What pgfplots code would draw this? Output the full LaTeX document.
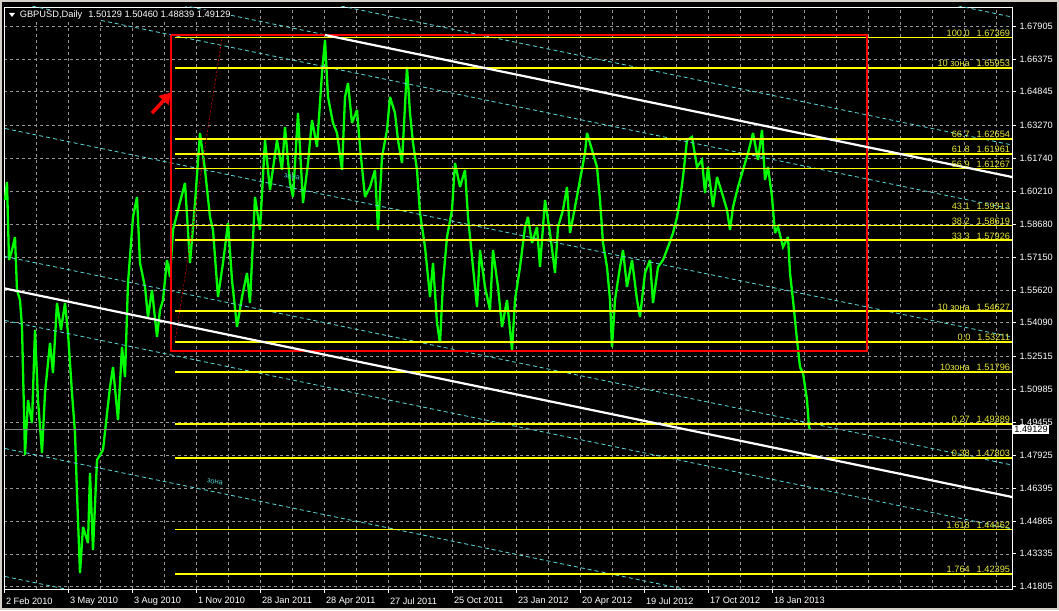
\documentclass[border=0pt]{standalone}
\usepackage{fontspec}
\setmainfont{Liberation Sans}
\usepackage{pgfplots}
\pgfplotsset{compat=1.18}
\usetikzlibrary{arrows.meta}
\definecolor{fibyel}{RGB}{255,255,0}
\definecolor{fibtxt}{RGB}{232,232,60}
\definecolor{chcyan}{RGB}{88,208,208}
\definecolor{gridgray}{RGB}{150,150,150}
\definecolor{pricegreen}{RGB}{0,255,0}
\definecolor{winframe}{RGB}{212,208,200}
\definecolor{fibred}{RGB}{190,0,0}

\pgfplotstableread{
x y
5 1.59804
7 1.60642
9 1.57011
12 1.57477
15 1.58082
17 1.55614
20 1.55149
22 1.53892
25 1.47933
28 1.50493
32 1.49423
35 1.53752
38 1.50493
42 1.48026
45 1.50819
50 1.53147
53 1.51750
57 1.55009
61 1.53752
65 1.55009
68 1.53613
72 1.50819
75 1.48957
77 1.46164
80 1.42439
83 1.44581
88 1.43836
90 1.47095
93 1.43510
97 1.47700
103 1.48166
110 1.51099
113 1.52030
118 1.49562
122 1.52961
125 1.51564
128 1.55940
133 1.59013
137 1.59944
140 1.56871
145 1.55754
148 1.54357
152 1.55614
157 1.53426
160 1.54683
163 1.55149
167 1.57011
170 1.56220
173 1.58408
178 1.59339
185 1.60596
190 1.56871
195 1.59665
200 1.62924
205 1.61201
210 1.59013
213 1.58408
218 1.55289
223 1.56871
228 1.58734
232 1.56080
237 1.53892
242 1.55289
247 1.56406
250 1.55009
255 1.59944
260 1.58408
265 1.62598
270 1.60270
277 1.62598
282 1.61201
285 1.63203
290 1.60596
293 1.59944
298 1.63855
303 1.59665
308 1.61527
312 1.63529
317 1.62272
322 1.65717
325 1.67253
328 1.64600
333 1.63389
337 1.62924
342 1.61201
345 1.64600
348 1.65251
352 1.63389
357 1.63994
360 1.62272
365 1.59944
370 1.60410
375 1.61201
378 1.58408
382 1.61806
387 1.63063
390 1.64600
395 1.63855
398 1.62598
402 1.61527
407 1.65996
410 1.63855
413 1.62458
417 1.61201
420 1.59199
425 1.57616
430 1.55289
433 1.56871
437 1.54078
440 1.53147
443 1.55940
447 1.58082
452 1.59339
455 1.61527
460 1.60410
465 1.61201
468 1.59013
472 1.57151
475 1.55754
477 1.54823
480 1.57477
485 1.55754
490 1.54683
493 1.57477
498 1.55754
502 1.53892
507 1.55149
512 1.52821
515 1.55149
520 1.56685
525 1.58547
528 1.59013
532 1.57803
537 1.58547
540 1.56685
545 1.59804
550 1.58268
555 1.56406
558 1.58547
563 1.59339
567 1.60410
570 1.58268
575 1.59479
580 1.60736
585 1.61993
587 1.62924
592 1.62132
597 1.61341
600 1.59804
603 1.57803
607 1.56685
610 1.55149
612 1.52961
615 1.55149
620 1.56685
623 1.57477
627 1.55754
632 1.57011
637 1.55149
640 1.54357
645 1.56406
650 1.57011
653 1.55009
658 1.56685
663 1.57011
668 1.57616
673 1.58268
677 1.59013
680 1.59804
683 1.60875
687 1.62598
692 1.62737
697 1.61341
702 1.61667
705 1.60130
708 1.61341
713 1.59479
717 1.60875
722 1.60130
727 1.59339
730 1.58408
733 1.59479
738 1.60410
743 1.61201
748 1.61993
753 1.62924
758 1.61667
762 1.63063
765 1.60736
768 1.61341
772 1.59944
775 1.58268
778 1.58547
783 1.57616
788 1.58082
790 1.56406
793 1.55149
797 1.53287
800 1.52030
803 1.51750
807 1.50493
809 1.49236
810 1.49129
}\pricedata

\begin{document}
\begin{tikzpicture}
\fill[black] (0pt,0pt) rectangle (1059pt,610pt);
\useasboundingbox (0pt,0pt) rectangle (1059pt,610pt);
\begin{axis}[
  at={(4pt,21pt)}, anchor=south west,
  scale only axis, width=1008pt, height=582pt,
  xmin=4, xmax=1012, ymin=1.41695, ymax=1.68790,
  clip=true,
  axis line style={white, line width=0.8pt},
  tick align=outside,
  xtick pos=bottom, ytick pos=right,
  major tick length=4pt,
  tick style={white, line width=0.6pt},
  xtick={4,68,132,196,260,324,388,452,516,580,644,708,772},
  xticklabels={2 Feb 2010, 3 May 2010, 3 Aug 2010, 1 Nov 2010, 28 Jan 2011, 28 Apr 2011, 27 Jul 2011, 25 Oct 2011, 23 Jan 2012, 20 Apr 2012, 19 Jul 2012, 17 Oct 2012, 18 Jan 2013},
  extra x ticks={36,100,164,228,292,356,420,484,548,612,676,740,804,836,868,900,932,964,996},
  extra x tick labels={},
  extra x tick style={major tick length=0pt, grid=major},
  ytick={1.41805,1.43335,1.44865,1.46395,1.47925,1.49455,1.50985,1.52515,1.54090,1.55620,1.57150,1.58680,1.60210,1.61740,1.63270,1.64845,1.66375,1.67905},
  yticklabels={1.41805,1.43335,1.44865,1.46395,1.47925,1.49455,1.50985,1.52515,1.54090,1.55620,1.57150,1.58680,1.60210,1.61740,1.63270,1.64845,1.66375,1.67905},
  xmajorgrids, ymajorgrids,
  major grid style={gridgray, dash pattern=on 3pt off 3pt, line width=0.5pt},
  xticklabel style={anchor=north west, font=\fontsize{9.2}{10}\selectfont, text=white, xshift=-1.5pt, yshift=-1pt},
  yticklabel style={anchor=west, font=\fontsize{9.2}{10}\selectfont, text=white},
]
% price
\addplot[pricegreen, line width=2.3pt, line join=miter, miter limit=3] table[x=x,y=y]{\pricedata};

% channel levels (cyan dashed)
\pgfplotsset{chan/.style={chcyan, line width=0.85pt, dash pattern=on 4pt off 3pt}}
\addplot[chan] coordinates {(5,1.78031) (1012,1.68324)};
\addplot[chan] coordinates {(5,1.72072) (1012,1.62365)};
\addplot[chan] coordinates {(5,1.70582) (1012,1.60875)};
\addplot[chan] coordinates {(5,1.69092) (1012,1.59385)};
\addplot[chan] coordinates {(5,1.63133) (1012,1.53426)};
\addplot[chan] coordinates {(5,1.57174) (1012,1.47467)};
\addplot[chan] coordinates {(5,1.54194) (1012,1.44488)};
\addplot[chan] coordinates {(5,1.48235) (1012,1.38529)};
\addplot[chan] coordinates {(5,1.42277) (1012,1.32570)};

% current price line
\addplot[gray, line width=0.6pt] coordinates {(4,1.49129) (1012,1.49129)};

% fib levels
\pgfplotsset{fib/.style={fibyel, line width=1.8pt}}
\addplot[fib] coordinates {(175,1.67369) (1012,1.67369)};
\addplot[fib] coordinates {(175,1.65953) (1012,1.65953)};
\addplot[fib] coordinates {(175,1.62654) (1012,1.62654)};
\addplot[fib] coordinates {(175,1.61961) (1012,1.61961)};
\addplot[fib] coordinates {(175,1.61267) (1012,1.61267)};
\addplot[fib] coordinates {(175,1.59313) (1012,1.59313)};
\addplot[fib] coordinates {(175,1.58619) (1012,1.58619)};
\addplot[fib] coordinates {(175,1.57926) (1012,1.57926)};
\addplot[fib] coordinates {(175,1.54627) (1012,1.54627)};
\addplot[fib] coordinates {(175,1.53211) (1012,1.53211)};
\addplot[fib] coordinates {(175,1.51796) (1012,1.51796)};
\addplot[fib] coordinates {(175,1.49389) (1012,1.49389)};
\addplot[fib] coordinates {(175,1.47803) (1012,1.47803)};
\addplot[fib] coordinates {(175,1.44462) (1012,1.44462)};
\addplot[fib] coordinates {(175,1.42395) (1012,1.42395)};

% fib base line (dotted red)
\addplot[fibred, line width=0.7pt, dash pattern=on 2pt off 2pt] coordinates {(175,1.53211) (222,1.67369)};

% red rectangle
\addplot[red, line width=2pt] coordinates {(171,1.67509) (867,1.67509) (867,1.52775) (171,1.52775) (171,1.67509)};

% white trend lines
\addplot[white, line width=2.2pt] coordinates {(325,1.67486) (1012,1.60875)};
\addplot[white, line width=2.2pt] coordinates {(5,1.55684) (1012,1.45978)};

% labels of fib levels
\tikzset{fl/.style={anchor=south east, inner sep=0.8pt, text=fibtxt, font=\fontsize{9.2}{10}\selectfont}}
\node[fl] at (axis cs:1011,1.67369) {100.0\hspace{7pt}1.67369};
\node[fl] at (axis cs:1011,1.65953) {10 зона\hspace{7pt}1.65953};
\node[fl] at (axis cs:1011,1.62654) {66.7\hspace{7pt}1.62654};
\node[fl] at (axis cs:1011,1.61961) {61.8\hspace{7pt}1.61961};
\node[fl] at (axis cs:1011,1.61267) {56.9\hspace{7pt}1.61267};
\node[fl] at (axis cs:1011,1.59313) {43.1\hspace{7pt}1.59313};
\node[fl] at (axis cs:1011,1.58619) {38.2\hspace{7pt}1.58619};
\node[fl] at (axis cs:1011,1.57926) {33.3\hspace{7pt}1.57926};
\node[fl] at (axis cs:1011,1.54627) {10 зона\hspace{7pt}1.54627};
\node[fl] at (axis cs:1011,1.53211) {0.0\hspace{7pt}1.53211};
\node[fl] at (axis cs:1011,1.51796) {10зона\hspace{7pt}1.51796};
\node[fl] at (axis cs:1011,1.49389) {0.27\hspace{7pt}1.49389};
\node[fl] at (axis cs:1011,1.47803) {0.38\hspace{7pt}1.47803};
\node[fl] at (axis cs:1011,1.44462) {1.618\hspace{7pt}1.44462};
\node[fl] at (axis cs:1011,1.42395) {1.764\hspace{7pt}1.42395};

% channel labels
\node[text=chcyan, font=\fontsize{7.5}{8}\selectfont, rotate=-10, inner sep=0pt] at (axis cs:215,1.46676) {зона};
\node[text=chcyan, font=\fontsize{7.5}{8}\selectfont, rotate=-10, inner sep=0pt] at (axis cs:292,1.60875) {зона};

% red arrow
\draw[red, line width=3.5pt, -{Triangle[length=11pt,width=13pt]}] (axis cs:152,1.6385) -- (axis cs:171,1.6481);

\coordinate (cp) at (axis cs:1012,1.49129);
\end{axis}
% current price box
\node[anchor=west, fill=white, text=black, inner sep=1.2pt, font=\fontsize{9.2}{10}\selectfont, xshift=1pt] at (cp) {1.49129};
% title
\fill[white] (9pt,597pt) -- (15pt,597pt) -- (12pt,593pt) -- cycle;
\node[anchor=west, fill=black, inner sep=0.6pt, text=white, font=\fontsize{9.3}{10}\selectfont] at (19pt,595pt) {GBPUSD,Daily\hspace{6pt}1.50129 1.50460 1.48839 1.49129};
% window frame
\draw[winframe, line width=2pt] (1pt,1pt) rectangle (1058pt,609pt);
\end{tikzpicture}
\end{document}
